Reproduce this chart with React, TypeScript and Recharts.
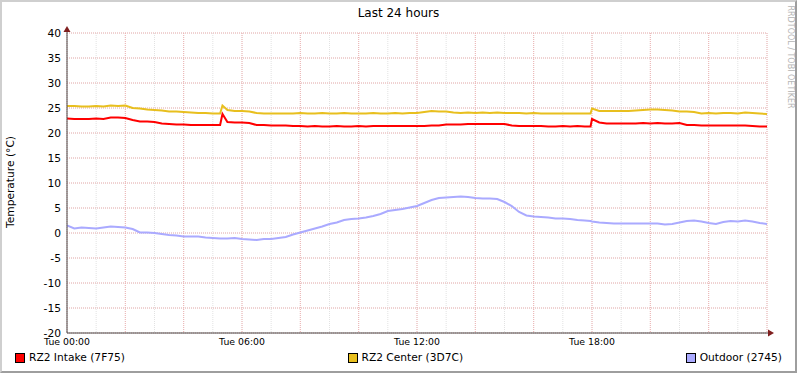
import React from 'react';
import { LineChart, Line, XAxis, YAxis, CartesianGrid, ReferenceDot, Legend } from 'recharts';

// sample times (hours since Tue 00:00)
const hours = [
  0, 0.25, 0.5, 0.75, 1, 1.25, 1.5, 1.75, 2, 2.25, 2.5, 2.75, 3, 3.25, 3.5, 3.75, 4, 4.25, 4.5, 4.75, 5, 5.25, 5.33, 5.5, 5.75,
  6, 6.25, 6.5, 6.75, 7, 7.25, 7.5, 7.75, 8, 8.25, 8.5, 8.75, 9, 9.25, 9.5, 9.75, 10, 10.25, 10.5, 10.75, 11, 11.25, 11.5, 11.75,
  12, 12.25, 12.5, 12.75, 13, 13.25, 13.5, 13.75, 14, 14.25, 14.5, 14.75, 15, 15.25, 15.5, 15.75, 16, 16.25, 16.5, 16.75, 17, 17.25, 17.5, 17.75,
  17.95,
  18, 18.25, 18.5, 18.75, 19, 19.25, 19.5, 19.75, 20, 20.25, 20.5, 20.75, 21, 21.25, 21.5, 21.75, 22, 22.25, 22.5, 22.75, 23, 23.25, 23.5, 23.75,
  24,
];

const intake = [
  22.9, 22.8, 22.8, 22.8, 22.9, 22.8, 23.1, 23.1, 23.0, 22.6, 22.3, 22.3, 22.2, 21.9, 21.8, 21.7, 21.7, 21.6, 21.6, 21.6, 21.6, 21.6, 23.8, 22.2, 22.1,
  22.1, 22.0, 21.6, 21.6, 21.5, 21.5, 21.5, 21.4, 21.4, 21.3, 21.4, 21.3, 21.3, 21.4, 21.3, 21.3, 21.4, 21.3, 21.4, 21.4, 21.4, 21.4, 21.4, 21.4,
  21.4, 21.4, 21.5, 21.5, 21.7, 21.7, 21.7, 21.8, 21.8, 21.8, 21.8, 21.8, 21.8, 21.5, 21.4, 21.4, 21.4, 21.4, 21.3, 21.3, 21.4, 21.3, 21.4, 21.3,
  21.3,
  22.8, 22.1, 21.9, 21.9, 21.9, 21.9, 21.9, 22.0, 21.9, 22.0, 21.9, 21.9, 22.0, 21.6, 21.6, 21.5, 21.5, 21.5, 21.5, 21.5, 21.5, 21.5, 21.4, 21.3,
  21.3,
];

const center = [
  25.4, 25.4, 25.3, 25.3, 25.4, 25.3, 25.5, 25.4, 25.5, 25.0, 24.9, 24.7, 24.6, 24.5, 24.3, 24.3, 24.2, 24.1, 24.0, 24.0, 23.9, 23.9, 25.5, 24.6, 24.4,
  24.4, 24.3, 24.0, 23.9, 23.9, 23.9, 23.9, 23.9, 24.0, 23.9, 23.9, 24.0, 23.9, 23.9, 24.0, 23.9, 23.9, 23.9, 24.0, 23.9, 23.9, 24.0, 23.9, 24.0,
  24.0, 24.2, 24.4, 24.3, 24.3, 24.1, 24.0, 24.1, 24.0, 24.1, 24.0, 24.1, 24.0, 24.0, 24.0, 23.9, 24.0, 23.9, 23.9, 23.9, 23.9, 23.9, 23.9, 23.9,
  23.9,
  24.9, 24.4, 24.4, 24.4, 24.4, 24.4, 24.5, 24.6, 24.7, 24.7, 24.6, 24.5, 24.3, 24.3, 24.2, 23.9, 24.0, 23.9, 24.0, 24.0, 23.9, 24.1, 24.0, 23.9,
  23.8,
];

const outdoor = [
  1.5, 0.9, 1.1, 1.0, 0.9, 1.1, 1.3, 1.2, 1.1, 0.8, 0.1, 0.1, 0.0, -0.2, -0.4, -0.5, -0.7, -0.7, -0.7, -0.9, -1.0, -1.1, -1.1, -1.1, -1.0,
  -1.2, -1.3, -1.4, -1.2, -1.2, -1.0, -0.8, -0.3, 0.1, 0.5, 0.9, 1.3, 1.8, 2.1, 2.6, 2.8, 2.9, 3.1, 3.4, 3.8, 4.4, 4.6, 4.8, 5.1,
  5.4, 6.0, 6.6, 7.0, 7.1, 7.2, 7.3, 7.2, 7.0, 6.9, 6.9, 6.8, 6.2, 5.4, 4.2, 3.5, 3.3, 3.2, 3.1, 2.9, 2.9, 2.8, 2.6, 2.5,
  2.4,
  2.3, 2.1, 2.0, 1.9, 1.9, 1.9, 1.9, 1.9, 1.9, 1.9, 1.7, 1.8, 2.1, 2.4, 2.5, 2.3, 2.0, 1.8, 2.2, 2.4, 2.3, 2.5, 2.3, 2.0,
  1.8,
];

const seriesKeys = ['intake', 'center', 'outdoor'];
const seriesNames = ['RZ2 Intake (7F75)', 'RZ2 Center (3D7C)', 'Outdoor (2745)'];
const seriesColors = ['#ff0000', '#e8bf1e', '#aaaaff'];

const xLabelTicks = [0, 6, 12, 18];
const xTickLabels = ['Tue 00:00', 'Tue 06:00', 'Tue 12:00', 'Tue 18:00'];
const xMajorTicks = [0, 2, 4, 6, 8, 10, 12, 14, 16, 18, 20, 22, 24];
const xMinorTicks = Array.from({ length: 49 }, (_, i) => i * 0.5);
const yMajorTicks = [-20, -15, -10, -5, 0, 5, 10, 15, 20, 25, 30, 35, 40];
const yMinorTicks = Array.from({ length: 61 }, (_, i) => -20 + i);

const title = 'Last 24 hours';
const yLabel = 'Temperature (°C)';
const watermark = 'RRDTOOL / TOBI OETIKER';

const data = hours.map((h, i) => ({ h, intake: intake[i], center: center[i], outdoor: outdoor[i] }));

const FONT = '"DejaVu Sans", sans-serif';
const AXIS = '#4a4a4a';
const ARROW = '#7f1f1f';

const RightArrow = (p: any) => {
  const { cx, cy } = p;
  return (
    <g>
      <line x1={cx} y1={cy} x2={cx + 4} y2={cy} stroke={AXIS} strokeWidth={1} />
      <path d={`M${cx + 1},${cy - 3.5} L${cx + 7},${cy} L${cx + 1},${cy + 3.5} Z`} fill={ARROW} />
    </g>
  );
};

const UpArrow = (p: any) => {
  const { cx, cy } = p;
  return (
    <g>
      <line x1={cx} y1={cy} x2={cx} y2={cy - 4} stroke={AXIS} strokeWidth={1} />
      <path d={`M${cx - 3.5},${cy - 1} L${cx},${cy - 7} L${cx + 3.5},${cy - 1} Z`} fill={ARROW} />
    </g>
  );
};

const renderLegend = () => (
  <div
    style={{
      display: 'flex',
      justifyContent: 'space-between',
      padding: '0 15px',
      fontFamily: FONT,
      fontSize: '10.67px',
      lineHeight: '14px',
      color: '#000',
    }}
  >
    {seriesNames.map((n, i) => (
      <div key={n} style={{ display: 'flex', alignItems: 'center' }}>
        <span
          style={{
            display: 'inline-block',
            width: 8,
            height: 8,
            background: seriesColors[i],
            border: '1px solid #000',
            marginRight: 4,
          }}
        />
        <span>{n}</span>
      </div>
    ))}
  </div>
);

export default function App() {
  return (
    <div style={{ position: 'absolute', left: 0, top: 0, width: 797, height: 373, background: '#fff', fontFamily: FONT }}>
      <LineChart width={797} height={373} data={data} margin={{ top: 33, right: 30, bottom: 0, left: 0 }}>
        <XAxis xAxisId="minor" dataKey="h" type="number" domain={[0, 24]} ticks={xMinorTicks} hide allowDataOverflow />
        <XAxis xAxisId="major" dataKey="h" type="number" domain={[0, 24]} ticks={xMajorTicks} hide allowDataOverflow />
        <YAxis yAxisId="minor" type="number" domain={[-20, 40]} ticks={yMinorTicks} hide allowDataOverflow />
        <YAxis yAxisId="major" type="number" domain={[-20, 40]} ticks={yMajorTicks} hide allowDataOverflow />
        <CartesianGrid xAxisId="minor" yAxisId="minor" stroke="#e2e2e2" strokeDasharray="1 1" />
        <CartesianGrid xAxisId="major" yAxisId="major" stroke="#eeb2b2" strokeDasharray="1 1" />
        <XAxis
          xAxisId="main"
          dataKey="h"
          type="number"
          domain={[0, 24]}
          ticks={xLabelTicks}
          tickFormatter={(v: number) => xTickLabels[xLabelTicks.indexOf(v)]}
          height={40}
          tickSize={0}
          tickMargin={5}
          tickLine={false}
          axisLine={{ stroke: AXIS }}
          tick={{ fontSize: 9.33, fill: '#000', fontFamily: FONT }}
          allowDataOverflow
        />
        <YAxis
          yAxisId="main"
          type="number"
          domain={[-20, 40]}
          ticks={yMajorTicks}
          width={67}
          tickSize={0}
          tickMargin={6}
          tickLine={false}
          axisLine={{ stroke: AXIS }}
          tick={{ fontSize: 10.67, fill: '#000', fontFamily: FONT }}
          allowDataOverflow
        />
        {seriesKeys.map((k, i) => (
          <Line
            key={k}
            xAxisId="main"
            yAxisId="main"
            type="linear"
            dataKey={k}
            name={seriesNames[i]}
            stroke={seriesColors[i]}
            strokeWidth={2}
            dot={false}
            activeDot={false}
            isAnimationActive={false}
          />
        ))}
        <ReferenceDot xAxisId="main" yAxisId="main" x={24} y={-20} ifOverflow="visible" shape={RightArrow} />
        <ReferenceDot xAxisId="main" yAxisId="main" x={0} y={40} ifOverflow="visible" shape={UpArrow} />
        <Legend
          verticalAlign="middle"
          layout="horizontal"
          content={renderLegend}
          wrapperStyle={{ position: 'absolute', left: 0, top: 351, width: 797, margin: 0 }}
        />
      </LineChart>
      <div
        style={{
          position: 'absolute',
          left: 0,
          top: 6,
          width: 797,
          textAlign: 'center',
          fontSize: 12,
          lineHeight: '14px',
          color: '#000',
        }}
      >
        {title}
      </div>
      <div
        style={{
          position: 'absolute',
          left: 11,
          top: 182,
          transform: 'translate(-50%, -50%) rotate(-90deg)',
          whiteSpace: 'nowrap',
          fontSize: '10.67px',
          lineHeight: '12px',
          color: '#000',
        }}
      >
        {yLabel}
      </div>
      <div
        style={{
          position: 'absolute',
          left: 790,
          top: 57,
          transform: 'translate(-50%, -50%) rotate(90deg)',
          whiteSpace: 'nowrap',
          fontSize: 8,
          lineHeight: '9px',
          color: '#b4b4b4',
        }}
      >
        {watermark}
      </div>
      <div
        style={{
          position: 'absolute',
          left: 0,
          top: 0,
          width: 797,
          height: 373,
          boxSizing: 'border-box',
          borderTop: '2px solid #cfcfcf',
          borderLeft: '2px solid #cfcfcf',
          borderRight: '2px solid #9e9e9e',
          borderBottom: '2px solid #9e9e9e',
          pointerEvents: 'none',
        }}
      />
    </div>
  );
}
